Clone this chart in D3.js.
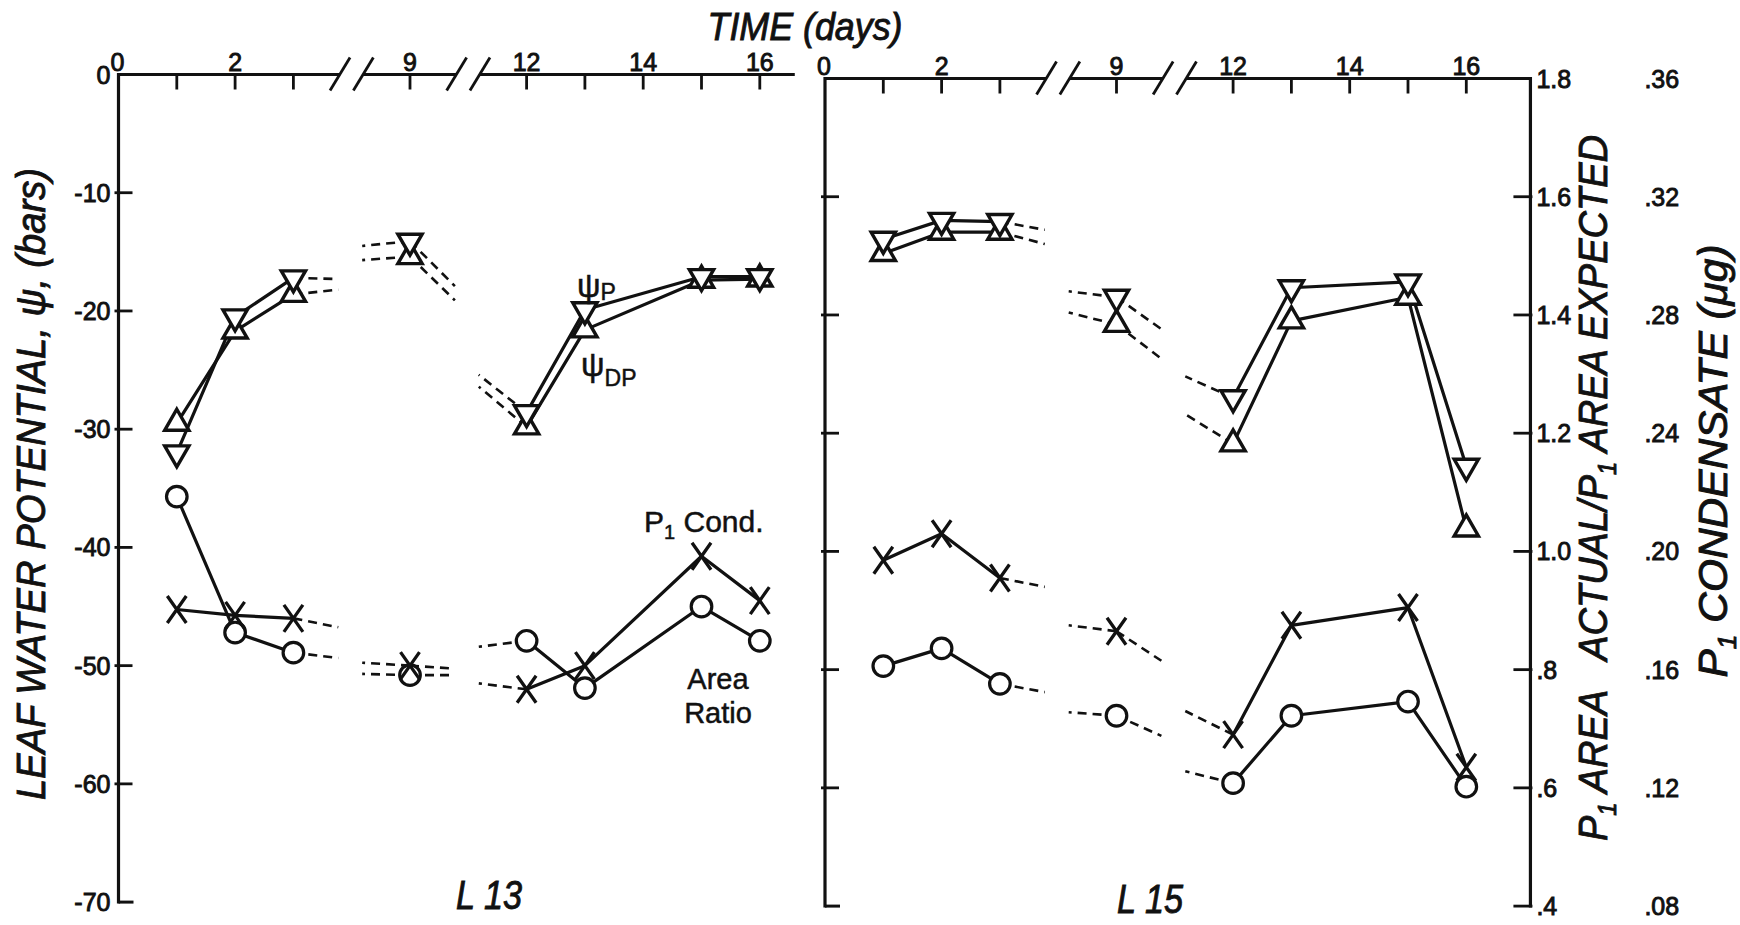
<!DOCTYPE html>
<html>
<head>
<meta charset="utf-8">
<script src="https://cdn.jsdelivr.net/npm/d3@7"></script>
<style>
  body { margin: 0; background: #fff; }
  svg { display: block; }
  text { font-family: "Liberation Sans", Arial, sans-serif; fill: #111; }
  .tick-label { font-size: 25px; stroke: #111; stroke-width: 0.9px; }
  .big-label { font-style: italic; font-size: 40px; stroke: #111; stroke-width: 0.9px; white-space: pre; }
  .note { font-size: 30px; stroke: #111; stroke-width: 0.5px; }
</style>
</head>
<body>
<svg id="chart" width="1740" height="925"></svg>
<script>
// Time axis (days), broken between 4-8 and 10-11
const days = [1, 2, 3, 9, 12, 13, 15, 16];
const segments = [[0, 3], [3, 4], [4, 8]];       // index ranges of days joined by solid lines
const stubDays = [3.77, 8.18, 9.77, 11.18];      // far ends of the dashed stubs at the breaks
const stubAnchors = [2, 3, 3, 4];                // which day each stub is attached to
const tickDays = [1, 2, 3, 9, 12, 13, 14, 15, 16];
const tickLabelDays = [0, 2, 9, 12, 14, 16];

// Left axis: leaf water potential (bars)
const psiTicks = [-10, -20, -30, -40, -50, -60];
const psiLabels = [0, -10, -20, -30, -40, -50, -60, -70];
// Right axes: P1 area actual / expected and P1 condensate (ug)
const areaTicks = [1.8, 1.6, 1.4, 1.2, 1.0, 0.8, 0.6, 0.4];
const areaTickLabels = ['1.8', '1.6', '1.4', '1.2', '1.0', '.8', '.6', '.4'];
const condTicks = [0.36, 0.32, 0.28, 0.24, 0.20, 0.16, 0.12, 0.08];
const condTickLabels = ['.36', '.32', '.28', '.24', '.20', '.16', '.12', '.08'];

// L 13
const l13PsiP  = [-32.0, -20.5, -17.2, -14.1, -28.6, -19.9, -17.1, -17.1];
const l13PsiDP = [-29.5, -21.7, -18.6, -15.4, -29.8, -21.6, -17.4, -17.3];
const l13Cond  = [0.179, 0.177, 0.176, 0.160, 0.152, 0.160, 0.197, 0.182];
const l13Area  = [1.086, 0.856, 0.822, 0.784, 0.842, 0.762, 0.900, 0.842];
// stub ends: out of day 3, into day 9, out of day 9, into day 12
const l13PsiPStub  = [-17.3, -14.5, -17.9, -25.4];
const l13PsiDPStub = [-18.2, -15.7, -19.1, -26.4];
const l13CondStub  = [0.173, 0.161, 0.159, 0.154];
const l13AreaStub  = [0.813, 0.786, 0.784, 0.832];

// L 15
const l15PsiP  = [-13.6, -12.0, -12.1, -18.5, -27.0, -17.7, -17.2, -32.8];
const l15PsiDP = [-14.8, -13.0, -13.0, -20.8, -30.9, -20.5, -18.5, -38.1];
const l15Cond  = [0.197, 0.206, 0.191, 0.173, 0.138, 0.175, 0.181, 0.127];
const l15Area  = [0.806, 0.836, 0.776, 0.722, 0.608, 0.722, 0.746, 0.602];
const l15PsiPStub  = [-12.8, -18.0, -21.2, -25.2];
const l15PsiDPStub = [-14.0, -19.8, -23.7, -28.4];
const l15CondStub  = [0.188, 0.175, 0.163, 0.146];
const l15AreaStub  = [0.762, 0.728, 0.688, 0.628];

const svg = d3.select('#chart');
const ink = '#111';
const unit = 58.3;        // px per day on the compressed time axis
const plotHeight = 827.6; // 0 .. -70 bars

const panels = [
  { name: 'L 13', x0: 118.5, top: 74.5, axisEnd: 16.6, rightAxis: false, yLabels: true, labelX: 489,
    psiP: l13PsiP, psiDP: l13PsiDP, cond: l13Cond, area: l13Area,
    psiPStub: l13PsiPStub, psiDPStub: l13PsiDPStub, condStub: l13CondStub, areaStub: l13AreaStub },
  { name: 'L 15', x0: 825, top: 78.5, axisEnd: 17.1, rightAxis: true, yLabels: false, labelX: 1150,
    psiP: l15PsiP, psiDP: l15PsiDP, cond: l15Cond, area: l15Area,
    psiPStub: l15PsiPStub, psiDPStub: l15PsiDPStub, condStub: l15CondStub, areaStub: l15AreaStub }
];

const triangle = d3.symbol(d3.symbolTriangle).size(255);

function drawMarker(sel, kind) {
  if (kind === 'circle') {
    sel.append('circle').attr('r', 10.3)
      .style('fill', '#fff').style('stroke', ink).style('stroke-width', 3.2);
  } else if (kind === 'cross') {
    sel.append('path').attr('d', 'M-9.5,-13.5L9.5,13.5M9.5,-13.5L-9.5,13.5')
      .style('fill', 'none').style('stroke', ink).style('stroke-width', 3.3);
  } else {
    sel.append('path').attr('d', triangle)
      .attr('transform', kind === 'down' ? 'rotate(180)' : null)
      .style('fill', '#fff').style('stroke', ink).style('stroke-width', 3.4)
      .style('stroke-linejoin', 'miter');
  }
}

function drawPanel(p) {
  const g = svg.append('g').attr('class', 'panel');
  const bottom = p.top + plotHeight;

  // compressed time scale: 4..8 and 10..11 collapse onto the breaks
  const x = d3.scaleLinear()
    .domain([0, 4, 8, 10, 11, 17])
    .range([0, 4, 4, 6, 6, 12].map(v => p.x0 + v * unit));
  const yPsi = d3.scaleLinear().domain([-70, 0]).range([bottom, p.top]);
  const yArea = d3.scaleLinear().domain([0.4, 1.8]).range([bottom, p.top]);
  const yCond = d3.scaleLinear().domain([0.08, 0.36]).range([bottom, p.top]);

  // top time axis, in three pieces
  const axisSegs = [[0, 3.8], [8.2, 9.8], [11.2, p.axisEnd]];
  g.selectAll('.time-axis')
    .data(axisSegs)
    .join('line')
    .attr('class', 'time-axis')
    .attr('x1', d => x(d[0])).attr('x2', d => x(d[1]))
    .attr('y1', p.top).attr('y2', p.top)
    .style('stroke', ink).style('stroke-width', 3.2);

  // break marks
  g.selectAll('.break-mark')
    .data([3.8, 8.2, 9.8, 11.2])
    .join('line')
    .attr('class', 'break-mark')
    .attr('x1', d => x(d) - 10).attr('y1', p.top + 16)
    .attr('x2', d => x(d) + 10).attr('y2', p.top - 17)
    .style('stroke', ink).style('stroke-width', 2.8);

  g.selectAll('.time-tick')
    .data(tickDays)
    .join('line')
    .attr('class', 'time-tick')
    .attr('x1', d => x(d)).attr('x2', d => x(d))
    .attr('y1', p.top).attr('y2', p.top + 15)
    .style('stroke', ink).style('stroke-width', 2.8);

  g.selectAll('.time-label')
    .data(tickLabelDays)
    .join('text')
    .attr('class', 'time-label tick-label')
    .attr('x', d => x(d) + (d === 0 ? -1 : 0))
    .attr('y', p.top - 3.5)
    .attr('text-anchor', 'middle')
    .text(d => d);

  // left axis
  g.append('line')
    .attr('x1', p.x0).attr('x2', p.x0)
    .attr('y1', p.top - 1.5).attr('y2', bottom + 1.5)
    .style('stroke', ink).style('stroke-width', 3.2);

  g.selectAll('.psi-tick')
    .data(psiTicks)
    .join('line')
    .attr('class', 'psi-tick')
    .attr('x1', p.x0 - 4).attr('x2', p.x0 + 14)
    .attr('y1', d => yPsi(d)).attr('y2', d => yPsi(d))
    .style('stroke', ink).style('stroke-width', 2.8);

  g.append('line')
    .attr('x1', p.x0).attr('x2', p.x0 + 15)
    .attr('y1', yPsi(-70)).attr('y2', yPsi(-70))
    .style('stroke', ink).style('stroke-width', 3);

  if (p.yLabels) {
    g.selectAll('.psi-label')
      .data(psiLabels)
      .join('text')
      .attr('class', 'psi-label tick-label')
      .attr('x', p.x0 - 8)
      .attr('y', d => yPsi(d))
      .attr('dy', '0.36em')
      .attr('text-anchor', 'end')
      .text(d => d);
  }

  if (p.rightAxis) {
    const xr = x(p.axisEnd);
    g.append('line')
      .attr('x1', xr).attr('x2', xr)
      .attr('y1', p.top - 1.5).attr('y2', bottom + 1.5)
      .style('stroke', ink).style('stroke-width', 3.2);

    g.selectAll('.area-tick')
      .data(areaTicks.slice(1))
      .join('line')
      .attr('class', 'area-tick')
      .attr('x1', xr - 17).attr('x2', xr + 2)
      .attr('y1', d => yArea(d)).attr('y2', d => yArea(d))
      .style('stroke', ink).style('stroke-width', 2.8);

    g.selectAll('.area-label')
      .data(areaTicks)
      .join('text')
      .attr('class', 'area-label tick-label')
      .attr('x', xr + 6)
      .attr('y', d => yArea(d))
      .attr('dy', '0.36em')
      .text((d, i) => areaTickLabels[i]);

    g.selectAll('.cond-label')
      .data(condTicks)
      .join('text')
      .attr('class', 'cond-label tick-label')
      .attr('x', xr + 114)
      .attr('y', d => yCond(d))
      .attr('dy', '0.36em')
      .text((d, i) => condTickLabels[i]);
  }

  const series = [
    { values: p.area, stubs: p.areaStub, y: yArea, marker: 'circle' },
    { values: p.cond, stubs: p.condStub, y: yCond, marker: 'cross' },
    { values: p.psiDP, stubs: p.psiDPStub, y: yPsi, marker: 'up' },
    { values: p.psiP, stubs: p.psiPStub, y: yPsi, marker: 'down' }
  ];

  const line = d3.line().x(d => x(d[0]));

  series.forEach(s => {
    const pts = days.map((d, i) => [d, s.values[i]]);
    line.y(d => s.y(d[1]));

    // solid lines inside each unbroken stretch
    segments.forEach(([a, b]) => {
      if (b - a < 2) return;
      g.append('path')
        .datum(pts.slice(a, b))
        .attr('d', line)
        .style('fill', 'none').style('stroke', ink)
        .style('stroke-width', 3.2).style('stroke-linejoin', 'round');
    });

    // dashed stubs leading into / out of the breaks
    const stubs = stubDays.map((d, i) => [pts[stubAnchors[i]], [d, s.stubs[i]]]);
    g.selectAll(null)
      .data(stubs)
      .join('path')
      .attr('d', line)
      .style('fill', 'none').style('stroke', ink)
      .style('stroke-width', 2.6).style('stroke-dasharray', '9,6');
  });

  series.forEach(s => {
    const pts = days.map((d, i) => [d, s.values[i]]);
    g.selectAll(null)
      .data(pts)
      .join('g')
      .attr('transform', d => `translate(${x(d[0])},${s.y(d[1])})`)
      .call(sel => drawMarker(sel, s.marker));
  });

  g.append('text')
    .attr('class', 'big-label')
    .attr('x', p.labelX)
    .attr('y', bottom + 7)
    .attr('text-anchor', 'middle')
    .attr('textLength', 66).attr('lengthAdjust', 'spacingAndGlyphs')
    .text(p.name);
}

panels.forEach(drawPanel);

// axis titles
svg.append('text')
  .attr('class', 'big-label')
  .attr('x', 805).attr('y', 40)
  .attr('text-anchor', 'middle')
  .style('font-size', '38px')
  .attr('textLength', 195).attr('lengthAdjust', 'spacingAndGlyphs')
  .text('TIME (days)');

svg.append('text')
  .attr('class', 'big-label')
  .attr('transform', 'translate(45,484) rotate(-90)')
  .attr('text-anchor', 'middle')
  .attr('textLength', 632).attr('lengthAdjust', 'spacingAndGlyphs')
  .text('LEAF WATER POTENTIAL, \u03c8, (bars)');

function subLabel(tx, ty, len, parts) {
  const t = svg.append('text')
    .attr('class', 'big-label')
    .attr('transform', `translate(${tx},${ty}) rotate(-90)`)
    .attr('text-anchor', 'middle')
    .attr('textLength', len).attr('lengthAdjust', 'spacingAndGlyphs');
  parts.forEach(([str, sub], i) => {
    t.append('tspan')
      .attr('dy', sub ? 9 : (i > 0 ? -9 : 0))
      .style('font-size', sub ? '25px' : null)
      .text(str);
  });
}

subLabel(1607, 488, 706, [['P', false], ['1', true], [' AREA   ACTUAL/P', false], ['1', true], [' AREA EXPECTED', false]]);
subLabel(1727, 461, 433, [['P', false], ['1', true], [' CONDENSATE (\u03bcg)', false]]);

// in-plot annotations (L 13)
const psiPNote = svg.append('text').attr('class', 'note').attr('x', 577).attr('y', 297);
psiPNote.append('tspan').style('font-size', '33px').text('\u03c8');
psiPNote.append('tspan').attr('dy', 3).style('font-size', '23px').text('P');

const psiDPNote = svg.append('text').attr('class', 'note').attr('x', 581).attr('y', 376);
psiDPNote.append('tspan').style('font-size', '33px').text('\u03c8');
psiDPNote.append('tspan').attr('dy', 10).style('font-size', '23px').text('DP');

const condNote = svg.append('text').attr('class', 'note').attr('x', 644).attr('y', 532);
condNote.append('tspan').text('P');
condNote.append('tspan').attr('dy', 7).style('font-size', '20px').text('1');
condNote.append('tspan').attr('dy', -7).text(' Cond.');

svg.append('text').attr('class', 'note')
  .attr('x', 718).attr('y', 689).attr('text-anchor', 'middle').style('font-size', '29px')
  .text('Area');
svg.append('text').attr('class', 'note')
  .attr('x', 718).attr('y', 723).attr('text-anchor', 'middle').style('font-size', '29px')
  .text('Ratio');
</script>
</body>
</html>
